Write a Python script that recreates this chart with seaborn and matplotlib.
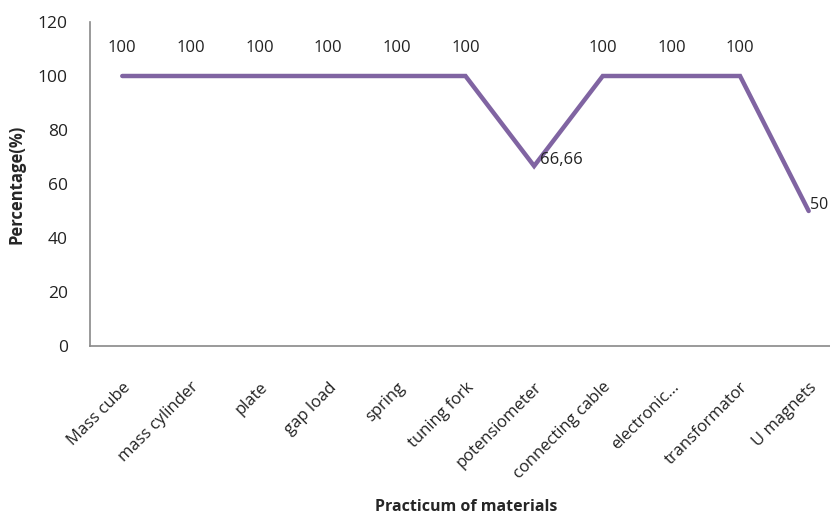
import pandas as pd
import seaborn as sns
import matplotlib.pyplot as plt

materials = ["Mass cube", "mass cylinder", "plate", "gap load", "spring", "tuning fork",
             "potensiometer", "connecting cable", "electronic...", "transformator", "U magnets"]
percentage = [100, 100, 100, 100, 100, 100, 66.66, 100, 100, 100, 50]
point_labels = ["100", "100", "100", "100", "100", "100", "66,66", "100", "100", "100", "50"]

df = pd.DataFrame({"material": materials, "pct": percentage})
df["pos"] = range(len(df))

sns.set_style("white")
plt.rcParams['font.family'] = ['Open Sans', 'DejaVu Sans']

fig = plt.figure(figsize=(8.3, 5.15), dpi=100)
ax = fig.add_axes([90 / 830, 169 / 515, 753 / 830, 324 / 515])
sns.lineplot(data=df, x="pos", y="pct", color="#8064A2", linewidth=3.2, ax=ax,
             solid_capstyle="round", solid_joinstyle="miter")

for i, (v, lab) in enumerate(zip(percentage, point_labels)):
    if lab == "100":
        ax.annotate(lab, (i, v), xytext=(0, 20), textcoords="offset points",
                    ha="center", va="center", fontsize=12, color="#222222")
    elif i == len(percentage) - 1:
        # last label sits at the right edge, keep it inside
        ax.annotate(lab, (i, v), xytext=(1, 4), textcoords="offset points",
                    ha="left", va="center", fontsize=11.5, color="#222222")
    else:
        ax.annotate(lab, (i, v), xytext=(4, 4), textcoords="offset points",
                    ha="left", va="center", fontsize=12, color="#222222")

ax.set_xlim(-0.47, 10.5)
ax.set_ylim(0, 120)
ax.set_yticks(range(0, 121, 20))
ax.set_xticks(df["pos"])
ax.set_xticklabels(materials, rotation=45, ha="right", rotation_mode="anchor", fontsize=12)
ax.tick_params(axis="y", labelsize=12.5, pad=16, length=0)
ax.tick_params(axis="x", length=0, pad=24)
for lab in ax.get_xticklabels() + ax.get_yticklabels():
    lab.set_color("#222222")

for s in ["top", "right"]:
    ax.spines[s].set_visible(False)
for s in ["left", "bottom"]:
    ax.spines[s].set_color("#898989")
    ax.spines[s].set_linewidth(1.2)

ax.set_ylabel("Percentage(%)", fontsize=12, fontweight="bold", labelpad=9)
ax.set_xlabel("")
fig.text(466 / 830, 1 - 507 / 515, "Practicum of materials", fontsize=11.5,
         fontweight="bold", ha="center", va="center")

plt.savefig("out.png", dpi=100)
